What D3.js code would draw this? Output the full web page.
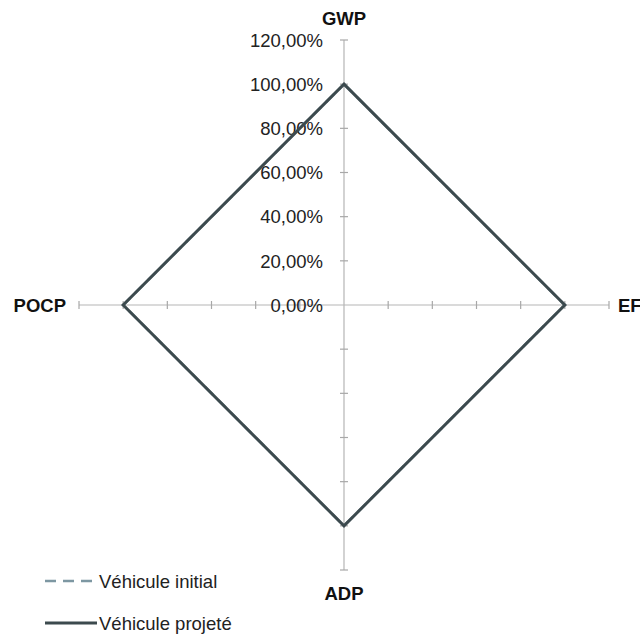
<!DOCTYPE html>
<html><head><meta charset="utf-8">
<script src="https://cdn.jsdelivr.net/npm/d3@7"></script>
<style>html,body{margin:0;padding:0;background:#fff;overflow:hidden}</style>
</head><body>
<svg id="c" width="640" height="636"></svg>
<script>
const axesNames = ["GWP", "EF", "ADP", "POCP"];
const initialValues = [1.0, 1.0, 1.0, 1.0];
const projectedValues = [1.0, 1.0, 1.0, 1.0];
const tickValues = [0, 0.2, 0.4, 0.6, 0.8, 1.0, 1.2];
const tickLabels = ["0,00%", "20,00%", "40,00%", "60,00%", "80,00%", "100,00%", "120,00%"];
const seriesNames = ["Véhicule initial", "Véhicule projeté"];

const svg = d3.select("#c");
const cx = 344, cy = 305;
const r = d3.scaleLinear().domain([0, 1.2]).range([0, 265]);
const angle = d3.scalePoint().domain(axesNames).range([0, 2*Math.PI*3/4]);
const font = "'Liberation Sans', Arial, sans-serif";

const g = svg.append("g").attr("transform", `translate(${cx},${cy})`);
const pt = (name, v) => {
  const a = angle(name);
  return [r(v)*Math.sin(a), -r(v)*Math.cos(a)];
};

// axes
axesNames.forEach(name => {
  const [x2, y2] = pt(name, 1.2);
  g.append("line").attr("x1", 0).attr("y1", 0).attr("x2", x2).attr("y2", y2)
    .attr("stroke", "#b5b5b5").attr("stroke-width", 1.2);
  const a = angle(name);
  tickValues.slice(1).forEach(t => {
    const [px, py] = pt(name, t);
    const dx = Math.cos(a)*4, dy = Math.sin(a)*4;
    g.append("line").attr("x1", px-dx).attr("y1", py-dy).attr("x2", px+dx).attr("y2", py+dy)
      .attr("stroke", "#a8a8a8").attr("stroke-width", 1.2);
  });
});
// tick labels
tickValues.forEach((t, i) => {
  g.append("text").attr("x", -21).attr("y", -r(t)).attr("dy", "0.36em")
    .attr("text-anchor", "end").attr("font-family", font).attr("font-size", 18.5)
    .attr("fill", "#222").text(tickLabels[i]);
});

// axis names
const labelPos = {GWP: [0, -280, "middle"], EF: [274, 7, "start"], ADP: [0, 295, "middle"], POCP: [-278, 7, "end"]};
axesNames.forEach(name => {
  const [x, y, anc] = labelPos[name];
  g.append("text").attr("x", x).attr("y", y).attr("text-anchor", anc)
    .attr("font-family", font).attr("font-size", 18.5).attr("font-weight", "bold")
    .attr("fill", "#111").text(name);
});

const line = d3.lineRadial().angle((d, i) => angle(axesNames[i])).radius(d => r(d)).curve(d3.curveLinearClosed);
g.append("path").datum(initialValues).attr("d", line).attr("fill", "none")
  .attr("stroke", "#7d97a2").attr("stroke-width", 2.5).attr("stroke-dasharray", "11,7");
g.append("path").datum(projectedValues).attr("d", line).attr("fill", "none")
  .attr("stroke", "#3c4a4e").attr("stroke-width", 3);

// legend
const leg = svg.append("g");
const styles = [{c: "#7d97a2", d: "11,7", w: 2.5}, {c: "#3c4a4e", d: null, w: 3}];
seriesNames.forEach((s, i) => {
  const y = 581 + i*42;
  leg.append("line").attr("x1", 45).attr("x2", 97).attr("y1", y).attr("y2", y)
    .attr("stroke", styles[i].c).attr("stroke-width", styles[i].w)
    .attr("stroke-dasharray", styles[i].d);
  leg.append("text").attr("x", 99).attr("y", y).attr("dy", "0.36em")
    .attr("font-family", font).attr("font-size", 18.5).attr("fill", "#222").text(s);
});
</script>
</body></html>
